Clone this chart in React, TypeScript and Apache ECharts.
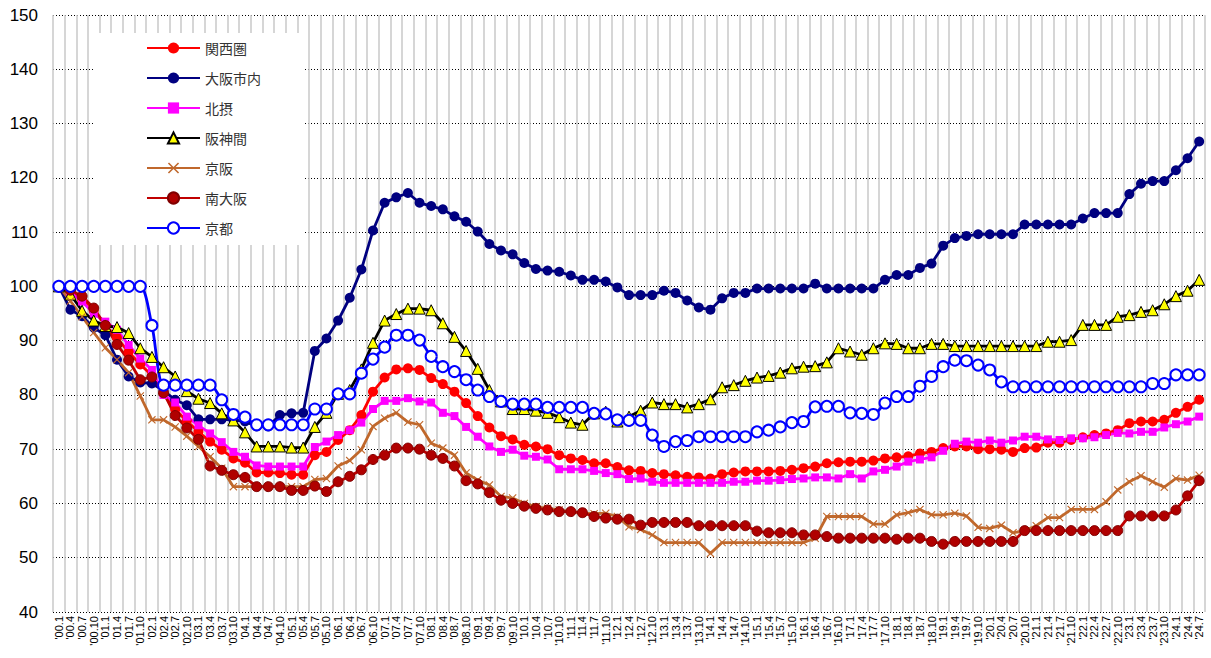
import React, { useEffect, useRef } from "react";
import * as echarts from "echarts";

const years = ["00","01","02","03","04","05","06","07","08","09","10","11","12","13","14","15","16","17","18","19","20","21","22","23","24"];
const months = ["1", "4", "7", "10"];
const lastLabel = "'24.7";

const categories: string[] = [];
for (const y of years) {
  for (const m of months) {
    const lab = "'" + y + "." + m;
    categories.push(lab);
    if (lab === lastLabel) break;
  }
}

const yTicks = { min: 40, max: 150, interval: 10 };

const kansai = [100,99.2,97.6,95.5,92.9,90.5,87.9,85.6,83.6,80.2,77.3,75.2,73.2,71.4,69.9,68.3,67.5,65.7,65.7,65.6,65.3,65.3,68.9,69.5,71.7,73.5,76.3,80.6,83.2,84.7,84.9,84.6,83.1,82.0,80.6,78.5,76.1,74.0,72.4,71.8,70.8,70.5,70.0,68.9,68.3,68.0,67.4,67.4,66.7,66.1,66.0,65.6,65.4,65.2,64.9,64.8,64.6,65.4,65.7,65.9,65.9,65.9,66.0,66.2,66.5,66.8,67.4,67.6,67.7,67.7,67.9,68.3,68.5,68.7,69.2,69.5,70.2,70.5,70.5,70.0,70.0,69.9,69.5,70.2,70.3,71.2,71.2,71.7,72.2,72.6,72.9,73.5,74.8,75.1,75.1,75.4,76.7,77.8,79.1];
const osakaCity = [100,95.7,94.5,92.4,91.0,86.5,83.4,82.3,82.1,80.8,79.1,78.1,75.5,75.5,75.5,75.4,75.1,74.2,74.2,76.3,76.6,76.7,88.1,90.4,93.7,97.9,103.1,110.3,115.4,116.4,117.2,115.4,114.8,114.2,112.9,111.9,110.1,107.8,106.6,105.9,104.3,103.2,102.9,102.7,102.0,101.2,101.2,100.9,99.8,98.4,98.4,98.4,99.2,98.8,97.4,96.1,95.7,97.8,98.8,98.8,99.6,99.6,99.6,99.6,99.6,100.5,99.6,99.6,99.6,99.6,99.6,101.2,102.1,102.1,103.4,104.2,107.5,108.9,109.3,109.6,109.6,109.6,109.6,111.4,111.4,111.4,111.4,111.4,112.5,113.5,113.5,113.5,117.0,118.9,119.4,119.4,121.4,123.6,126.7];
const hokusetsu = [100,98.9,97.2,95.0,93.5,92.0,89.2,86.7,84.6,80.0,78.6,76.0,74.4,72.9,71.3,69.5,68.6,67.0,66.8,66.8,66.8,66.8,70.4,71.4,72.6,73.5,74.9,77.4,78.9,78.9,79.4,78.8,78.6,76.7,76.1,74.1,72.3,70.5,69.5,69.9,68.8,68.6,68.1,66.3,66.3,66.3,66.0,65.6,65.4,64.5,64.6,64.0,63.8,63.8,63.8,63.8,63.8,63.8,64.0,64.0,64.2,64.2,64.3,64.5,64.6,64.8,64.8,64.6,65.4,64.6,65.9,66.2,66.8,67.7,68.1,68.5,69.7,71.0,71.4,71.2,71.6,71.2,71.6,72.3,72.3,71.8,71.7,72.0,72.0,72.2,72.6,73.0,72.9,73.2,73.2,74.0,74.6,75.1,76.0];
const hanshin = [100,98.5,95.5,93.7,92.7,92.5,91.4,88.6,87.0,85.1,83.4,80.7,79.3,78.5,76.6,75.3,73.1,70.5,70.5,70.5,70.3,70.3,74.1,76.7,80.2,80.9,84.7,89.6,93.7,94.9,95.9,95.9,95.6,93.2,90.7,88.1,84.8,80.9,78.8,77.4,77.4,77.1,76.7,75.9,74.9,74.5,76.6,76.9,75.1,76.0,77.1,78.6,78.3,78.3,77.7,78.3,79.2,81.4,81.8,82.6,83.2,83.5,84.1,84.9,85.2,85.3,86.0,88.6,88.0,87.4,88.6,89.5,89.4,88.6,88.6,89.4,89.4,89.0,89.0,89.0,89.0,89.0,89.0,89.0,89.0,89.8,89.8,90.1,92.9,92.9,92.9,94.4,94.7,95.3,95.6,96.7,98.2,99.2,101.2];
const keihan = [100,97.3,94.4,91.5,88.7,86.5,84.1,79.8,75.4,75.4,74.1,72.4,70.5,68.6,66.5,63.1,63.1,63.1,63.1,63.1,63.1,63.1,64.4,64.6,66.9,67.9,69.9,74.2,75.7,76.7,75.0,74.5,71.1,70.2,68.9,65.6,64.3,63.4,61.3,61.0,60.0,59.4,59.1,58.8,58.5,58.2,58.1,58.2,57.6,55.7,55.2,54.2,52.8,52.8,52.8,52.8,50.8,52.8,52.8,52.8,52.8,52.8,52.8,52.8,52.8,53.6,57.6,57.6,57.6,57.6,56.2,56.2,57.9,58.3,58.9,57.9,57.9,58.2,57.7,55.6,55.4,56.0,54.6,55.0,55.9,57.4,57.4,58.9,58.9,58.9,60.3,62.5,64.0,65.1,64.0,63.0,64.6,64.3,65.2];
const minamiOsaka = [100,99.3,98.2,96.0,92.8,89.3,86.4,82.8,83.3,80.4,76.2,73.9,71.8,66.9,66.1,65.3,64.8,63.1,63.1,63.1,62.4,62.4,63.2,62.2,64.0,65.0,66.2,68.1,68.9,70.2,70.2,70.0,68.9,68.3,66.9,64.2,63.6,62.0,60.6,60.0,59.5,59.1,58.8,58.5,58.5,58.3,57.6,57.3,57.1,57.1,56.0,56.5,56.5,56.5,56.5,55.9,55.9,55.9,55.9,55.9,54.9,54.6,54.6,54.6,54.2,54.2,53.9,53.6,53.6,53.6,53.6,53.6,53.4,53.6,53.6,53.0,52.5,53.0,53.0,53.0,53.0,53.0,53.0,55.0,55.0,55.0,55.0,55.0,55.0,55.0,55.0,55.0,57.7,57.7,57.7,57.7,58.8,61.4,64.2];
const kyoto = [100,100,100,100,100,100,100,100,92.8,81.8,81.8,81.8,81.8,81.8,79.1,76.4,75.9,74.5,74.5,74.5,74.5,74.5,77.4,77.4,80.2,80.2,84.0,86.6,88.8,91.0,91.0,90.1,87.1,85.2,84.3,82.8,80.9,79.7,78.8,78.3,78.3,78.3,77.7,77.7,77.7,77.7,76.6,76.5,75.4,75.3,75.3,72.6,70.5,71.4,71.6,72.3,72.3,72.3,72.3,72.3,73.2,73.5,74.1,74.9,75.1,77.8,77.9,77.9,76.7,76.6,76.4,78.5,79.7,79.7,81.6,83.4,85.2,86.4,86.3,85.5,84.6,82.4,81.5,81.5,81.5,81.5,81.5,81.5,81.5,81.5,81.5,81.5,81.5,81.5,82.1,82.1,83.7,83.7,83.7];

const seriesNames = ["関西圏", "大阪市内", "北摂", "阪神間", "京阪", "南大阪", "京都"];

const crossPath = "path://M0,1 L1,0 L5,4 L9,0 L10,1 L6,5 L10,9 L9,10 L5,6 L1,10 L0,9 L4,5 Z";

export default function App() {
  const ref = useRef<HTMLDivElement>(null);
  useEffect(() => {
    if (!ref.current) return;
    const chart = echarts.init(ref.current, null, { renderer: "svg" });
    const base = (name: string, data: number[], extra: any) => ({
      name,
      type: "line",
      data,
      showAllSymbol: true,
      ...extra,
    });
    const lw = 2.8;
    chart.setOption({
      animation: false,
      backgroundColor: "#ffffff",
      textStyle: { fontFamily: "Liberation Sans, Arial, sans-serif" },
      grid: { left: 53, right: 6, top: 15, bottom: 46, containLabel: false },
      legend: {
        orient: "vertical",
        left: 141,
        top: 36,
        itemWidth: 53,
        itemHeight: 14,
        itemGap: 16,
        z: 10,
        textStyle: { fontSize: 14, color: "#333", fontFamily: "Noto Sans CJK JP, sans-serif" },
        data: seriesNames,
      },
      graphic: [
        {
          type: "rect",
          z: 1,
          shape: { x: 95, y: 33, width: 210, height: 212 },
          style: { fill: "#ffffff" },
        },
      ],
      xAxis: {
        type: "category",
        data: categories,
        boundaryGap: true,
        axisLine: { show: false },
        axisTick: { show: false },
        axisLabel: { interval: 0, rotate: 90, fontSize: 11, color: "#000", margin: 4 },
        splitLine: { show: true, interval: 0, lineStyle: { color: "#c8c8c8", width: 1.5 } },
      },
      yAxis: {
        type: "value",
        min: yTicks.min,
        max: yTicks.max,
        interval: yTicks.interval,
        axisLine: { show: false },
        axisTick: { show: false },
        axisLabel: { fontSize: 17, color: "#000", margin: 15 },
        splitLine: { show: true, lineStyle: { color: "#000", width: 1, type: [1, 2] } },
      },
      series: [
        base(seriesNames[0], kansai, {
          symbol: "circle", symbolSize: 10,
          lineStyle: { color: "#FF0000", width: lw },
          itemStyle: { color: "#FF0000" },
        }),
        base(seriesNames[1], osakaCity, {
          symbol: "circle", symbolSize: 10,
          lineStyle: { color: "#000080", width: lw },
          itemStyle: { color: "#000080" },
        }),
        base(seriesNames[2], hokusetsu, {
          symbol: "rect", symbolSize: 8,
          lineStyle: { color: "#FF00FF", width: lw },
          itemStyle: { color: "#FF00FF" },
        }),
        base(seriesNames[3], hanshin, {
          symbol: "triangle", symbolSize: 11,
          lineStyle: { color: "#000000", width: lw },
          itemStyle: { color: "#FFFF00", borderColor: "#000000", borderWidth: 1 },
        }),
        base(seriesNames[4], keihan, {
          symbol: crossPath, symbolSize: 8,
          lineStyle: { color: "#C0682C", width: lw },
          itemStyle: { color: "#C0682C" },
        }),
        base(seriesNames[5], minamiOsaka, {
          symbol: "circle", symbolSize: 10,
          lineStyle: { color: "#C00000", width: lw },
          itemStyle: { color: "#B00000", borderColor: "#800000", borderWidth: 1 },
        }),
        base(seriesNames[6], kyoto, {
          symbol: "emptyCircle", symbolSize: 11, smooth: 0.3,
          lineStyle: { color: "#0000FF", width: lw },
          itemStyle: { color: "#0000FF", borderWidth: 1.5 },
        }),
      ],
    });
    return () => chart.dispose();
  }, []);
  return (
    <div
      ref={ref}
      style={{ position: "fixed", left: 0, top: 0, width: 1211, height: 658 }}
    />
  );
}
